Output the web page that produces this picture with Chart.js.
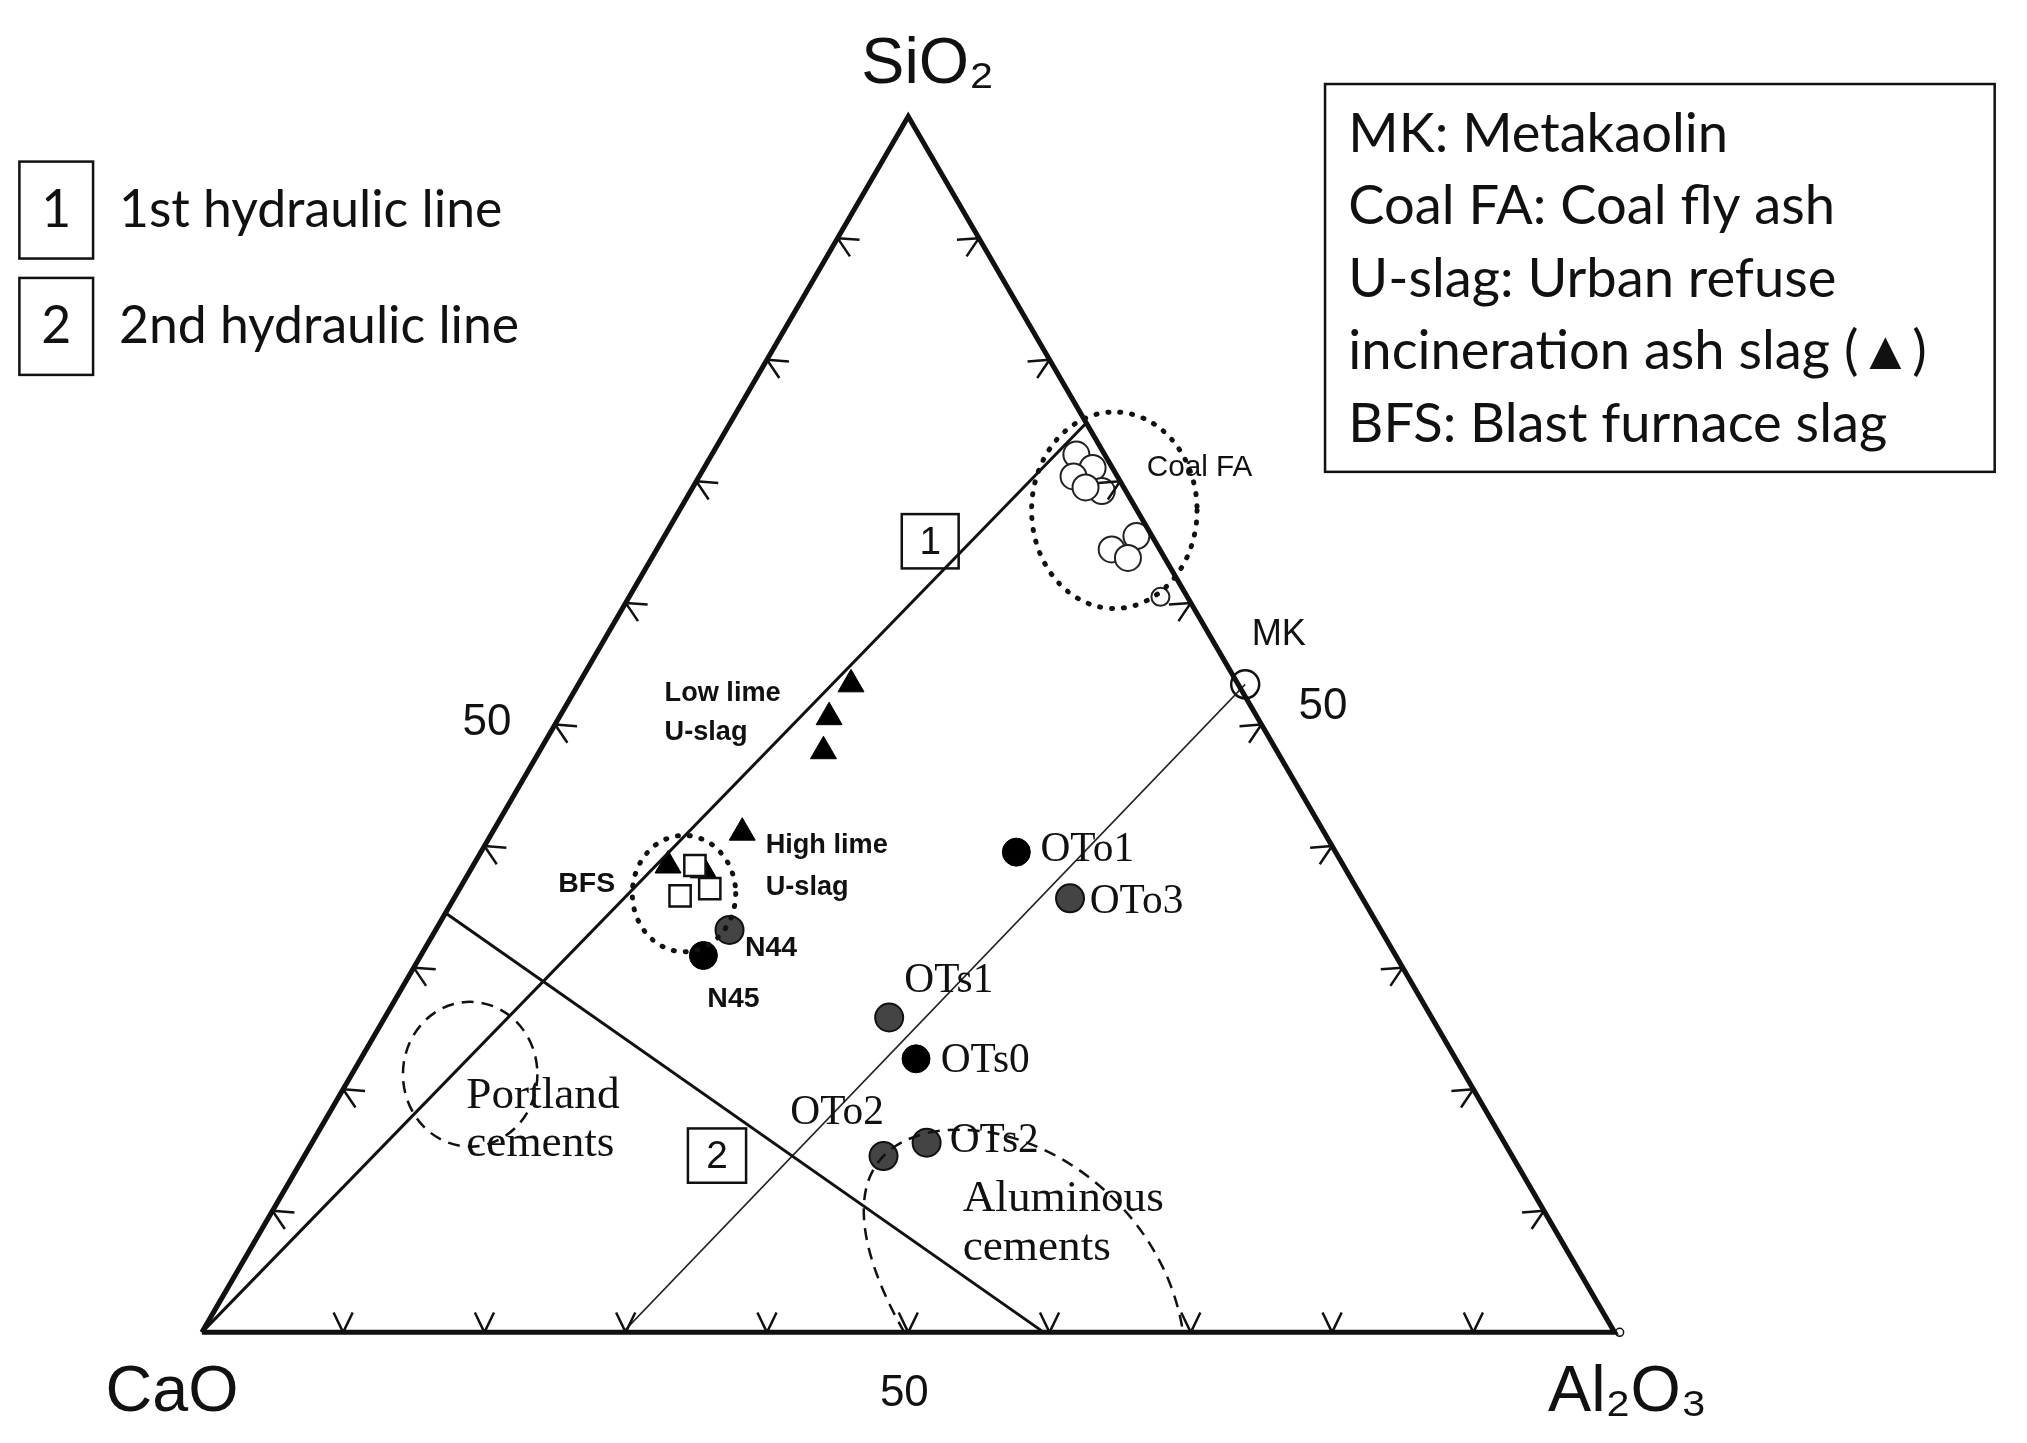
<!DOCTYPE html>
<html><head><meta charset="utf-8">
<script src="https://cdn.jsdelivr.net/npm/chart.js@4"></script>
<style>html,body{margin:0;padding:0;background:#fff;overflow:hidden}canvas{display:block}</style>
</head><body>
<canvas id="c" width="2027" height="1443"></canvas>
<script>
// Compositions (%): Al2O3 and SiO2 (CaO = remainder)
const coalFA_Al2O3=[25.8,27.5,26.5,29.1,27.8,33.4,32.2,33.7];
const coalFA_SiO2 =[72.2,71.1,70.4,69.2,69.5,65.5,64.4,63.7];
const coalFAsmall_Al2O3=[37.6], coalFAsmall_SiO2=[60.5];
const MK_Al2O3=[47.2], MK_SiO2=[53.3];
const lowLime_Al2O3=[19.3,19.1,20.1], lowLime_SiO2=[53.3,50.6,47.8];
const highLime_Al2O3=[17.7,13.8,16.5], highLime_SiO2=[41.1,38.4,38.0];
const BFS_Al2O3=[15.7,15.9,17.7], BFS_SiO2=[38.4,35.9,36.5];
const grayNames=["N44","OTo3","OTs1","OTs2","OTo2"];
const gray_Al2O3=[20.8,43.6,35.7,43.5,41.0], gray_SiO2=[33.1,35.7,25.9,15.6,14.5];
const blackNames=["N45","OTo1","OTs0"];
const black_Al2O3=[20.0,37.9,39.3], black_SiO2=[31.0,39.5,22.5];
const line1_Al2O3=[0,25.2], line1_SiO2=[0,74.8];
const line2_Al2O3=[0,59.6], line2_SiO2=[34.5,0];
const line3_Al2O3=[29.8,47.2], line3_SiO2=[0,53.3];
const tickValues=[10,20,30,40,50,60,70,80,90];

const T=(a,s)=>({x:a+s/2,y:s});
const pts=(A,S)=>A.map((a,i)=>T(a,S[i]));
const K=2027/1568;
const img=(px,py)=>({x:(px-158)/10.9,y:(1030-py)/9.42});

const ds=[
 {type:'line',data:[T(0,0),T(100,0),T(0,100),T(0,0)],borderColor:'#111',borderWidth:5,pointRadius:0,fill:false},
 {type:'line',data:pts(line1_Al2O3,line1_SiO2),borderColor:'#111',borderWidth:3,pointRadius:0},
 {type:'line',data:pts(line2_Al2O3,line2_SiO2),borderColor:'#111',borderWidth:3,pointRadius:0},
 {type:'line',data:pts(line3_Al2O3,line3_SiO2),borderColor:'#222',borderWidth:1.5,pointRadius:0},
 {data:pts(coalFA_Al2O3,coalFA_SiO2),pointStyle:'circle',pointRadius:13,backgroundColor:'#fff',borderColor:'#222',borderWidth:2},
 {data:pts(coalFAsmall_Al2O3,coalFAsmall_SiO2),pointStyle:'circle',pointRadius:9,backgroundColor:'#fff',borderColor:'#222',borderWidth:2},
 {data:pts(MK_Al2O3,MK_SiO2),pointStyle:'circle',pointRadius:14,backgroundColor:'rgba(0,0,0,0)',borderColor:'#111',borderWidth:2.5},
 {data:pts(BFS_Al2O3,BFS_SiO2),pointStyle:'rect',pointRadius:15,backgroundColor:'#fff',borderColor:'#111',borderWidth:2.5},
 {data:pts(lowLime_Al2O3,lowLime_SiO2),pointStyle:'triangle',pointRadius:15,backgroundColor:'#000',borderColor:'#000'},
 {data:pts(highLime_Al2O3,highLime_SiO2),pointStyle:'triangle',pointRadius:15,backgroundColor:'#000',borderColor:'#000'},
 {data:pts(gray_Al2O3,gray_SiO2),pointStyle:'circle',pointRadius:14,backgroundColor:'#444',borderColor:'#111',borderWidth:2},
 {data:pts(black_Al2O3,black_SiO2),pointStyle:'circle',pointRadius:14,backgroundColor:'#000',borderColor:'#000'}
];

const deco={id:'deco',afterDatasetsDraw(ch){
 const c=ch.ctx,xs=ch.scales.x,ys=ch.scales.y;
 const P=p=>[xs.getPixelForValue(p.x),ys.getPixelForValue(p.y)];
 c.save();c.strokeStyle='#111';c.lineWidth=2.5;
 const edges=[[T(0,0),T(100,0)],[T(100,0),T(0,100)],[T(0,100),T(0,0)]];
 const cen=P(T(100/3,100/3));
 edges.forEach(([p0,p1])=>{
  const A=P(p0),B=P(p1);let ex=B[0]-A[0],ey=B[1]-A[1];const EL=Math.hypot(ex,ey);ex/=EL;ey/=EL;
  let nx=-ey,ny=ex;const mx=(A[0]+B[0])/2,my=(A[1]+B[1])/2;
  if((cen[0]-mx)*nx+(cen[1]-my)*ny<0){nx=-nx;ny=-ny;}
  tickValues.forEach(v=>{
   const px=A[0]+(B[0]-A[0])*v/100,py=A[1]+(B[1]-A[1])*v/100;
   const len=22,ang=0.45;
   c.beginPath();
   for(const s of [-1,1]){const cs=Math.cos(s*ang),sn=Math.sin(s*ang);
     const dx=nx*cs-ny*sn,dy=nx*sn+ny*cs;c.moveTo(px,py);c.lineTo(px+dx*len,py+dy*len);}
   c.stroke();
  });
 });
 const ell=(cx,cy,rx,ry,dash,w)=>{const [x,y]=P(img(cx,cy));c.setLineDash(dash);c.lineWidth=w;c.beginPath();c.ellipse(x,y,rx*K,ry*K,0,0,Math.PI*2);c.stroke();};
 c.lineCap='round';
 ell(862,393,64,76,[1,11],5);
 ell(530,690,40,45,[1,11],5);
 c.lineCap='butt';
 ell(365,830,52,56,[12,8],2.5);
 c.setLineDash([12,8]);c.lineWidth=2.5;c.beginPath();
 let p=P(img(700,1030));c.moveTo(...p);
 const bz=(a,b,d)=>{const A=P(img(...a)),B=P(img(...b)),D=P(img(...d));c.bezierCurveTo(...A,...B,...D);};
 bz([660,960],[650,890],[720,875]);
 bz([800,860],[900,930],[915,1030]);
 c.stroke();c.setLineDash([]);
 const box=(x0,y0,w,h,t)=>{c.lineWidth=2.5;c.strokeRect(x0,y0,w*K,h*K);
  c.font=`${30*K}px "Liberation Sans"`;c.fillStyle='#111';c.textAlign='center';c.textBaseline='middle';c.fillText(t,x0+w*K/2,y0+h*K/2+2);};
 const [b1x,b1y]=P(img(698,396));box(b1x,b1y,44,42,'1');
 const [b2x,b2y]=P(img(533,872));box(b2x,b2y,45,42,'2');
 const txt=(s,px,py,size,font,align='left',weight='')=>{const [x,y]=P(img(px,py));c.font=`${weight} ${size*K}px ${font}`;c.fillStyle='#111';c.textAlign=align;c.textBaseline='middle';c.fillText(s,x,y);};
 const sans='"Liberation Sans"',serif='"Liberation Serif"';
 txt('CaO',135,1077,50,sans,'center');txt('Al₂O₃',1258,1077,50,sans,'center');txt('SiO₂',718,48,50,sans,'center');
 txt('50',378,558,34,sans,'center');txt('50',1023,545,34,sans,'center');txt('50',700,1078,34,sans,'center');
 txt('Coal FA',887,360,23,sans);txt('MK',968,490,28,sans);
 txt('Low lime',515,535,21,sans,'left','bold');txt('U‑slag',515,565,21,sans,'left','bold');
 txt('High lime',593,653,21,sans,'left','bold');txt('U‑slag',593,685,21,sans,'left','bold');
 txt('BFS',433,683,22,sans,'left','bold');txt('N44',577,732,22,sans,'left','bold');txt('N45',548,772,22,sans,'left','bold');
 txt('OTo1',805,656,32,serif);txt('OTo3',843,697,32,serif);txt('OTs1',700,758,32,serif);txt('OTs0',728,820,32,serif);
 txt('OTs2',735,882,32,serif);txt('OTo2',612,860,32,serif);
 txt('Portland',362,847,35,serif);txt('cements',362,884,35,serif);
 txt('Aluminous',745,927,35,serif);txt('cements',745,965,35,serif);
 const [vx,vy]=P(T(100,0));c.lineWidth=1.5;c.beginPath();c.arc(vx+5,vy,4,0,Math.PI*2);c.stroke();
 c.lineWidth=2.5;c.fillStyle='#111';c.textBaseline='middle';
 [[125,200,'1','1st hydraulic line'],[215,290,'2','2nd hydraulic line']].forEach(([y0,y1,n,t])=>{
  c.strokeRect(15*K,y0*K,57*K,(y1-y0)*K);c.font=`${40*K}px Lato`;c.textAlign='center';c.fillText(n,43.5*K,(y0+y1)/2*K);
  c.textAlign='left';c.fillText(t,92*K,(y0+y1)/2*K);});
 c.strokeRect(1025*K,65*K,518*K,300*K);c.font=`${42*K}px Lato`;c.textAlign='left';
 ['MK: Metakaolin','Coal FA: Coal fly ash','U-slag: Urban refuse','incineration ash slag (▲)','BFS: Blast furnace slag']
  .forEach((t,i)=>c.fillText(t,1043*K,(104+i*56)*K));
 c.restore();
}};

new Chart(document.getElementById('c'),{type:'scatter',data:{datasets:ds},
 options:{responsive:false,animation:false,devicePixelRatio:1,layout:{padding:0},
  plugins:{legend:{display:false},tooltip:{enabled:false}},
  scales:{x:{type:'linear',display:false,min:-13.05,max:127.95},y:{type:'linear',display:false,min:-7.66,max:108.15}}},
 plugins:[deco]});
</script></body></html>
